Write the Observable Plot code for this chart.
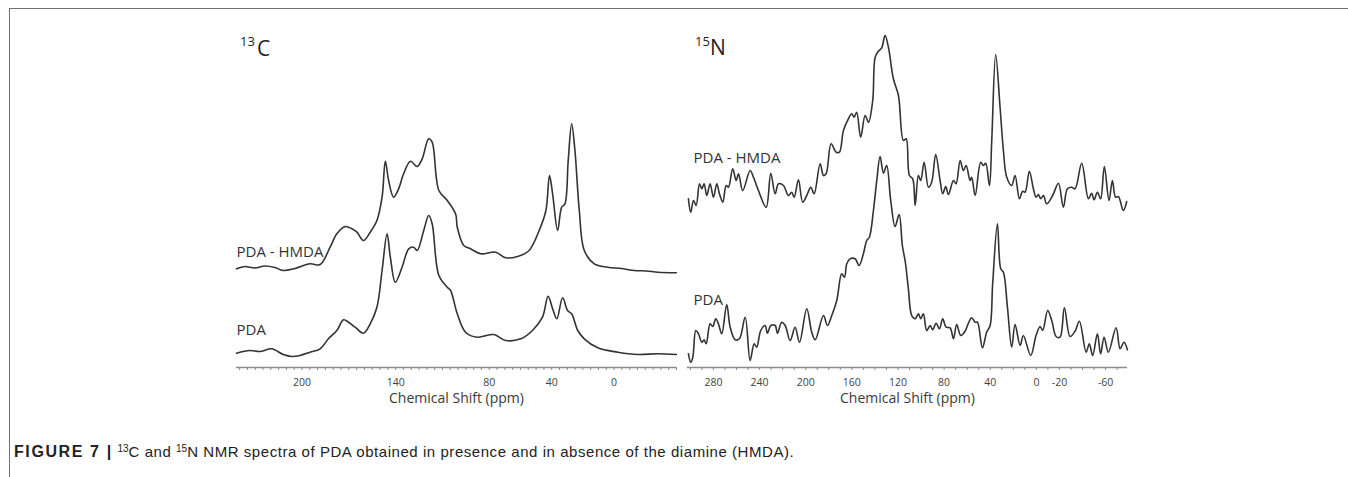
<!DOCTYPE html>
<html>
<head>
<meta charset="utf-8">
<script src="https://cdn.jsdelivr.net/npm/d3@7"></script>
<script src="https://cdn.jsdelivr.net/npm/@observablehq/plot@0.6"></script>
<style>
  body { margin: 0; background: #fff; }
  #fig { position: relative; width: 1348px; height: 477px; overflow: hidden; background: #fff; }
  .frame-top { position: absolute; left: 10px; top: 8px; width: 1338px; height: 0; border-top: 1.5px solid #707070; }
  .frame-left { position: absolute; left: 9px; top: 8px; width: 0; height: 469px; border-left: 1.5px solid #707070; }
  .panel { position: absolute; top: 0; }
  .t { position: absolute; font-family: "Open Sans", sans-serif; color: #1e1e1e; line-height: 1; white-space: nowrap; }
  .caption { position: absolute; left: 14px; top: 444px; font-family: "Liberation Sans", Arial, sans-serif; font-size: 15px; letter-spacing: 0.55px; line-height: 1; color: #222; white-space: nowrap; }
  .caption b { font-weight: bold; font-size: 16px; letter-spacing: 1.6px; }
  .caption sup { font-size: 10px; vertical-align: 5px; letter-spacing: 0; }
</style>
</head>
<body>
<div id="fig">
  <div class="frame-top"></div>
  <div class="frame-left"></div>
  <div id="left" class="panel" style="left:200px"></div>
  <div id="right" class="panel" style="left:660px"></div>
  <span class="t" style="left:240px; top:35px; font-size:13px;">13</span>
  <span class="t" style="left:257px; top:38px; font-size:21px;">C</span>
  <span class="t" style="left:695px; top:35px; font-size:13px;">15</span>
  <span class="t" style="left:710px; top:37px; font-size:21px;">N</span>
  <div class="caption"><b>FIGURE 7 |</b> <sup>13</sup>C and <sup>15</sup>N NMR spectra of PDA obtained in presence and in absence of the diamine (HMDA).</div>
</div>
<script>
// ---- 13C spectra: [chemical shift (ppm), displayed intensity (a.u., stacked)] ----
const c13_hmda = [
  [242.0,98.7],[236.7,101],[230.2,99.5],[223.8,101.5],[217.4,100],[212.2,97],[204.5,99],[194.9,103.7],[188.4,103],
  [182.0,120.3],[177.7,133.7],[172.3,141],[168.0,138.7],[164.8,135.3],[160.6,127],[156.3,135.3],[152.0,147],
  [148.7,170.3],[146.6,206.3],[144.5,187],[141.3,170.3],[138.1,178.7],[134.9,193.7],[130.5,206.3],[126.2,201],
  [123.0,208.7],[118.8,228.7],[116.6,225.3],[112.3,177],[106.9,167],[101.6,153.7],[100.5,140.3],[96.3,122],
  [92.0,118.7],[85.5,113.7],[75.9,115.3],[69.5,109.7],[61.9,111],[54.5,117],[48.0,137],[43.7,157],[41.4,192],
  [39.4,173.7],[36.2,137],[33.6,160.3],[31.5,163.7],[29.4,207],[27.2,243.7],[25.1,217],[22.3,157],[19.1,117],
  [12.7,103.7],[4.1,100.3],[-4.5,99],[-13.1,97],[-20.6,96.5],[-28.1,95.3],[-39.9,94.7]
];
const c13_pda = [
  [242.0,14.3],[233.4,17],[227.0,16],[219.5,18.7],[212.0,13],[206.6,11],[201.3,12],[194.9,15.3],[188.4,18.7],
  [183.1,28.7],[177.7,37],[173.4,47.7],[170.2,45.3],[165.9,40.3],[160.6,34.3],[156.3,43.7],[152.0,60.3],
  [148.7,97],[145.5,133.7],[143.4,110.3],[140.2,85.3],[135.9,100.3],[131.6,118.7],[128.4,120.3],[126.2,117],
  [122.0,137],[118.8,152],[116.6,143.7],[112.3,92],[106.9,80.3],[104.8,77],[100.5,53.7],[95.2,35.3],[87.7,30.3],
  [77.0,33],[69.5,27],[59.8,28.7],[52.3,37],[45.9,50.3],[42.3,71.3],[39.4,58.7],[36.7,48.7],[33.0,69.7],
  [29.8,57],[27.2,53.7],[23.3,37],[19.1,28.7],[10.5,19.7],[-2.4,15.3],[-15.2,13],[-28.1,13.7],[-39.9,13]
];
// ---- 15N spectra ----
const n15_hmda = [
  [301.7,168.7],[299.7,155.3],[297.3,167],[295.0,162],[292.1,183.7],[290.1,178.7],[288.1,183.7],[285.8,172],
  [282.9,183.7],[280.0,170.3],[277.1,183.7],[274.8,173.7],[271.9,165.3],[269.0,182],[267.0,180.3],[263.3,198.7],
  [260.3,187],[258.3,193.7],[254.6,177],[248.2,197],[245.3,190.3],[241.0,177],[234.3,160.3],[230.3,194.3],
  [226.5,173.7],[223.6,183.7],[219.3,182],[215.0,172],[212.1,175.3],[210.0,170.3],[206.3,187.7],[202.6,165.3],
  [198.5,173.7],[195.6,180.3],[192.7,173.7],[187.5,203.7],[184.6,192],[182.3,193.7],[178.0,223.7],[173.6,215.3],
  [170.8,215.3],[167.3,237],[163.0,248.7],[160.1,253.7],[158.0,250.3],[155.8,255.3],[152.3,230.3],[148.5,252],
  [145.6,245.3],[141.9,267],[139.8,310.3],[137.0,316.3],[134.1,319.7],[131.2,332],[128.3,320.3],[124.0,288.7],
  [119.6,272],[115.3,227],[112.9,228.7],[110.1,192],[107.2,188.7],[105.1,162],[102.3,192],[100.3,187],[97.3,205.3],
  [93.6,180.3],[90.8,185.3],[87.3,213],[83.5,187],[81.2,173.7],[78.6,181],[76.3,173],[71.9,187],[69.6,183.7],
  [66.1,207],[63.3,197],[60.9,202],[57.5,187],[56.1,190.3],[53.1,172],[48.3,205.3],[45.9,202],[43.9,204.3],
  [40.7,182],[38.7,227],[35.3,313],[31.5,260.3],[28.6,217],[25.7,190.3],[21.4,182],[18.5,192],[14.7,168.7],
  [11.9,176.3],[9.8,175.3],[6.1,196.3],[2.6,178.7],[0.3,170.3],[-1.7,173],[-3.7,168.7],[-6.1,172],[-8.9,163.7],
  [-14.1,172],[-19.1,184.3],[-23.4,160.3],[-26.9,178.7],[-30.6,180.3],[-33.5,178.7],[-39.3,204.3],[-45.1,168.7],
  [-47.9,174.3],[-50.0,167.7],[-52.9,175.3],[-55.7,168.7],[-58.9,201],[-63.0,167],[-65.9,187],[-68.7,170.3],
  [-71.1,171],[-75.4,157],[-78.3,166]
];
const n15_pda = [
  [301.7,13.7],[299.7,5.3],[297.9,10.3],[295.3,37],[293.0,33.7],[290.1,25.3],[288.1,27.7],[286.3,23.7],[282.9,43.7],
  [280.6,41],[278.0,48.7],[275.7,43.7],[272.8,33.7],[268.5,63],[265.5,40.3],[261.2,27.7],[257.5,28.7],[252.5,50.3],
  [248.2,7],[244.7,23.7],[242.5,20.3],[239.0,37],[235.2,42],[233.2,34.3],[230.3,42],[226.5,42],[224.5,34.3],
  [220.8,45.3],[217.8,42],[213.5,27],[209.2,40.3],[205.4,25.3],[199.1,58.7],[194.8,35.3],[191.8,27.7],[184.6,52],
  [181.2,42],[177.4,52],[173.1,67],[168.8,93.7],[166.4,90.3],[164.4,103.7],[161.5,108.7],[157.2,108.7],[153.7,102],
  [150.0,113.7],[147.1,127],[144.8,130.3],[141.3,157],[138.4,187],[135.5,211],[132.6,194.3],[129.8,202],[126.3,167],
  [122.5,141],[119.0,153],[116.2,122],[113.6,105],[111.0,79],[108.1,52],[105.1,48.7],[102.3,53.7],[100.3,48.7],
  [98.0,53.7],[95.1,37],[92.1,42],[89.9,37.7],[86.9,44.3],[84.1,38.7],[81.2,48.7],[78.3,40.3],[74.8,39.7],[71.9,28.7],
  [69.1,43],[65.6,32],[61.8,36.3],[58.9,44.3],[56.1,49.7],[53.1,45.3],[51.1,45.3],[46.8,19.7],[43.1,35.3],[40.1,42],
  [37.9,83.7],[33.8,143.7],[30.9,98.7],[28.6,95.3],[25.1,60.3],[21.4,20.3],[18.5,43],[14.1,22],[11.3,32],[4.9,12],
  [0.3,32],[-3.2,41],[-5.5,37],[-9.8,57],[-13.3,47],[-17.1,31],[-20.5,30.3],[-24.3,59.7],[-29.2,31],[-33.5,36.3],
  [-37.3,46.3],[-43.1,15.3],[-45.9,23.7],[-48.8,12],[-52.9,33.7],[-55.7,13.7],[-58.7,30.3],[-62.4,15.3],[-69.1,39.7],
  [-72.6,18.7],[-76.0,25.3],[-78.9,17.7]
];
// ---- axis ticks ----
const c13_tickLabels = [200, 140, 80, 40, 0];
const c13_minorTicks = d3.range(240, -41, -5);
const n15_tickLabels = [280, 240, 200, 160, 120, 80, 40, 0, -20, -60];
const n15_minorTicks = d3.range(300, -71, -10);
// ---- series labels: [text, ppm at left edge, intensity] ----
const c13_labels = [["PDA - HMDA", 242, 115], ["PDA", 242, 37]];
const n15_labels = [["PDA - HMDA", 297.3, 209], ["PDA", 297.3, 67]];
const axisTitle = "Chemical Shift (ppm)";

function toRows(pairs, series) { return pairs.map(([ppm, v]) => ({ppm, v, series})); }

function panel({width, marginLeft, marginRight, domain, series, minor, labelsTicks, labels}) {
  const rows = series.flatMap(([name, pairs]) => toRows(pairs, name));
  return Plot.plot({
    width, height: 420,
    marginLeft, marginRight, marginTop: 7, marginBottom: 53,
    style: {background: "transparent", overflow: "visible"},
    x: {domain, axis: null},
    y: {domain: [0, 360], axis: null},
    marks: [
      Plot.ruleY([0], {stroke: "#8c8c8c", strokeWidth: 1.3}),
      Plot.axisX(minor, {anchor: "bottom", tickSize: 3, tickFormat: () => "", stroke: "#8c8c8c", strokeWidth: 1, label: null}),
      Plot.axisX(labelsTicks, {anchor: "bottom", tickSize: 0, tickPadding: 11, fontSize: 10.5, fill: "#444", label: null,
        fontFamily: "Open Sans", tickFormat: d => String(d)}),
      Plot.text([axisTitle], {text: d => d, frameAnchor: "bottom", lineAnchor: "middle", dy: 31, fontSize: 14, fill: "#3a3a3a", fontFamily: "Open Sans"}),
      Plot.line(rows, {x: "ppm", y: "v", z: "series", stroke: "#333", strokeWidth: 1.6, curve: "catmull-rom"}),
      Plot.text(labels, {x: d => d[1], y: d => d[2], text: d => d[0], textAnchor: "start", fontSize: 15, fill: "#333", fontFamily: "Open Sans"})
    ]
  });
}

document.getElementById("left").appendChild(panel({
  width: 500, marginLeft: 36, marginRight: 24, domain: [242, -40],
  series: [["PDA - HMDA", c13_hmda], ["PDA", c13_pda]],
  minor: c13_minorTicks, labelsTicks: c13_tickLabels, labels: c13_labels
}));
document.getElementById("right").appendChild(panel({
  width: 490, marginLeft: 27, marginRight: 23, domain: [302.5, -79],
  series: [["PDA - HMDA", n15_hmda], ["PDA", n15_pda]],
  minor: n15_minorTicks, labelsTicks: n15_tickLabels, labels: n15_labels
}));
</script>
</body>
</html>
